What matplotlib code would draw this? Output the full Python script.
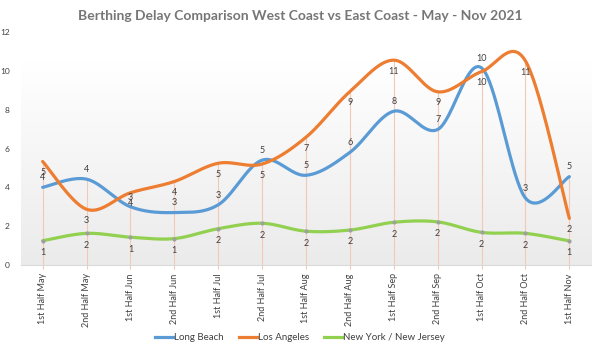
import numpy as np
import matplotlib
matplotlib.use("Agg")
import matplotlib.pyplot as plt
from matplotlib.lines import Line2D
from matplotlib.colors import LinearSegmentedColormap

plt.rcParams['font.family'] = ['Lato', 'DejaVu Sans']

categories = ["1st Half May", "2nd Half May", "1st Half Jun", "2nd Half Jun",
              "1st Half Jul", "2nd Half Jul", "1st Half Aug", "2nd Half Aug",
              "1st Half Sep", "2nd Half Sep", "1st Half Oct", "2nd Half Oct",
              "1st Half Nov"]
long_beach = [4.0, 4.42, 3.0, 2.7, 3.1, 5.4, 4.62, 5.8, 7.92, 6.98, 10.15, 3.45, 4.55]
los_angeles = [5.33, 2.87, 3.72, 4.3, 5.24, 5.2, 6.58, 8.93, 10.55, 8.92, 9.96, 10.51, 2.4]
ny_nj = [1.25, 1.63, 1.43, 1.36, 1.87, 2.15, 1.74, 1.8, 2.2, 2.22, 1.68, 1.63, 1.24]
series_names = ["Long Beach", "Los Angeles", "New York / New Jersey"]
colors = ["#5B9BD5", "#ED7D31", "#92D050"]
yticks = [0, 2, 4, 6, 8, 10, 12]


def smooth(x, y, n=40):
    P = np.column_stack([x, y]).astype(float)
    m = len(P)
    out = []
    for i in range(m - 1):
        p0 = P[i]
        p3 = P[i + 1]
        pm = P[i - 1] if i > 0 else P[i]
        pp = P[i + 2] if i + 2 < m else P[i + 1]
        c1 = p0 + (p3 - pm) / 6.0
        c2 = p3 - (pp - p0) / 6.0
        t = np.linspace(0, 1, n)[:, None]
        seg = ((1 - t) ** 3) * p0 + 3 * ((1 - t) ** 2) * t * c1 + 3 * (1 - t) * t ** 2 * c2 + t ** 3 * p3
        if i > 0:
            seg = seg[1:]
        out.append(seg)
    out = np.vstack(out)
    return out[:, 0], out[:, 1]


fig = plt.figure(figsize=(6.0, 3.51), dpi=100)
ax = fig.add_axes([20.7 / 600, (351 - 265) / 351, (591.3 - 20.7) / 600, (265 - 32) / 351])

x = np.arange(len(categories))
ax.set_xlim(-0.5, len(categories) - 0.5)
ax.set_ylim(0, 12)

# gradient background
grad = np.linspace(1.0, 0.0, 256)[:, None]
cmap = LinearSegmentedColormap.from_list("bg", ["#ebebeb", "#ffffff"])
ax.imshow(grad, aspect="auto", cmap=cmap, extent=[-0.5, len(categories) - 0.5, 0, 10.5],
          origin="upper", zorder=0, vmin=0, vmax=1)

# drop lines
tops = np.maximum.reduce([long_beach, los_angeles, ny_nj])
ax.vlines(x, 0, tops, colors="#F2C9B6", linewidth=0.8, zorder=1)

data = [long_beach, los_angeles, ny_nj]
for vals, c in zip(data, colors):
    sx, sy = smooth(x, vals)
    ax.plot(sx, sy, color=c, linewidth=2.3, zorder=3, solid_capstyle="round")
ax.plot(x, ny_nj, linestyle="none", marker="o", markersize=2, color="#A0A0A0", zorder=4)

label_color = "#404040"
for xi, v in zip(x, long_beach):
    ax.annotate(f"{v:.0f}", (xi, v), xytext=(0, 7), textcoords="offset points",
                ha="center", va="center", fontsize=6.5, color=label_color, zorder=5)
for xi, v in zip(x, los_angeles):
    ax.annotate(f"{v:.0f}", (xi, v), xytext=(0, -8), textcoords="offset points",
                ha="center", va="center", fontsize=6.5, color=label_color, zorder=5)
for xi, v in zip(x, ny_nj):
    ax.annotate(f"{v:.0f}", (xi, v), xytext=(0, -8.5), textcoords="offset points",
                ha="center", va="center", fontsize=6.5, color=label_color, zorder=5)

for s in ["top", "right", "left"]:
    ax.spines[s].set_visible(False)
ax.spines["bottom"].set_color("#D9D9D9")
ax.spines["bottom"].set_linewidth(0.8)
ax.set_yticks(yticks)
ax.set_yticklabels([str(t) for t in yticks], fontsize=6, color="#404040")
ax.tick_params(axis="y", length=0, pad=8)
ax.set_xticks(x)
ax.set_xticklabels(categories, rotation=90, fontsize=6.5, color="#404040")
ax.tick_params(axis="x", length=3, color="#F2C9B6", pad=3)

fig.text(0.5, 1 - 16 / 351, "Berthing Delay Comparison West Coast vs East Coast - May - Nov 2021",
         ha="center", va="center", fontsize=10, fontweight="bold", color="#767676")

handles = [Line2D([0], [0], color=c, linewidth=2.3) for c in colors]
fig.legend(handles, series_names, loc="center", bbox_to_anchor=(0.5, 1 - 338 / 351), ncol=3,
           frameon=False, fontsize=7, handlelength=1.8, handletextpad=0.1, columnspacing=1.6,
           labelcolor="#404040")

fig.savefig("out.png", dpi=100)
